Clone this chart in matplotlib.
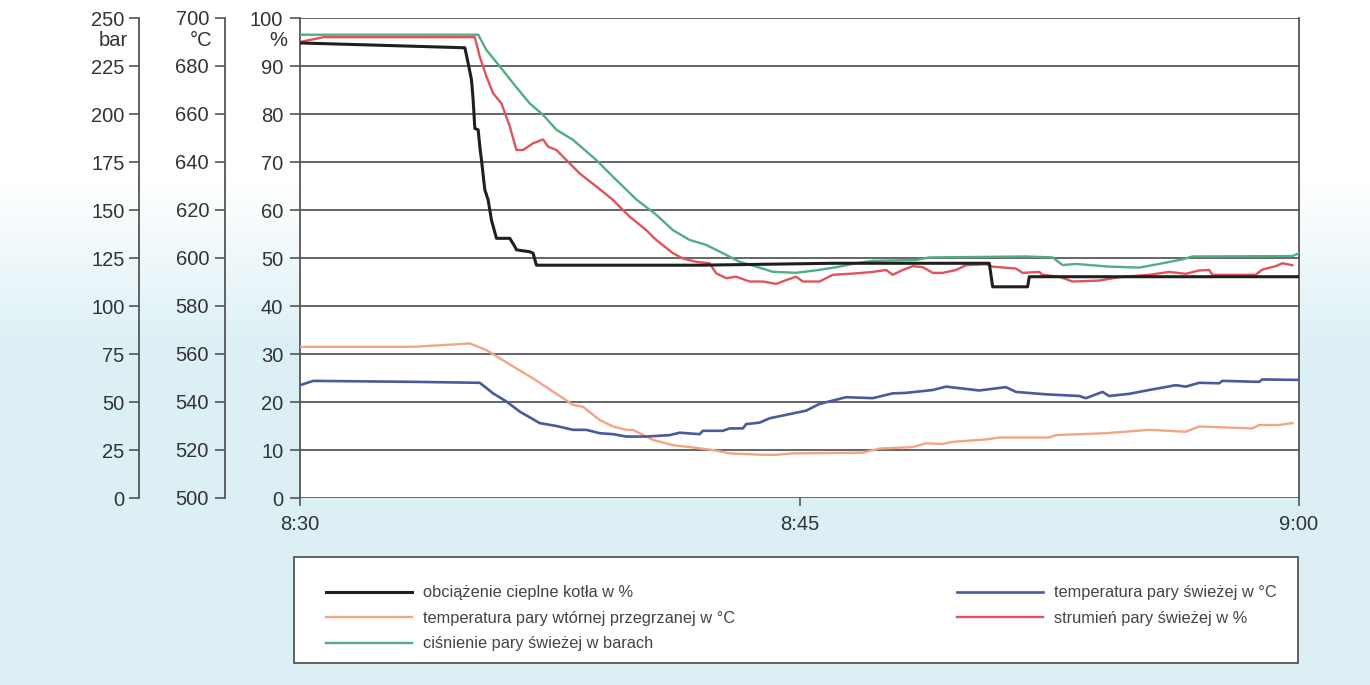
import numpy as np
import matplotlib
matplotlib.use("Agg")
import matplotlib.pyplot as plt
from matplotlib.patches import Rectangle
from matplotlib.lines import Line2D

plt.rcParams['font.family'] = ['Liberation Sans', 'DejaVu Sans']

# ---- data (time in minutes after 8:30) ----
load_t = [0, 2.5, 4.95, 5.05, 5.15, 5.2, 5.25, 5.35, 5.4, 5.45, 5.55, 5.65, 5.75,
          5.9, 6.3, 6.45, 6.5, 6.9, 7.0, 7.1, 12, 16, 20.7, 20.8, 21.85, 21.9, 30]
load_pct = [94.8, 94.3, 93.8, 90.6, 87.1, 82.9, 77.0, 76.7, 73.2, 70.4, 64.2, 62.1, 57.9,
            54.1, 54.1, 52.4, 51.7, 51.3, 51.0, 48.5, 48.5, 48.9, 48.9, 44.0, 44.0, 46.1, 46.1]

flow_t = [0, 0.7, 5.25, 5.4, 5.6, 5.8, 6.05, 6.3, 6.5, 6.7, 7.0, 7.3, 7.45, 7.7, 8.0,
          8.4, 8.9, 9.4, 9.9, 10.4, 10.7, 11.2, 11.5, 11.9, 12.3, 12.5, 12.8, 13.1,
          13.5, 13.9, 14.3, 14.6, 14.9, 15.1, 15.6, 16.0, 16.7, 17.2, 17.6, 17.8,
          18.1, 18.4, 18.7, 19.0, 19.3, 19.7, 20.0, 20.6, 20.8, 21.5, 21.7, 22.2,
          22.3, 22.8, 23.2, 24.0, 24.6, 25.5, 26.1, 26.6, 27.0, 27.3, 27.4, 28.7,
          28.9, 29.3, 29.5, 29.8]
flow_pct = [95.0, 96.0, 96.0, 91.9, 87.8, 84.3, 82.2, 77.4, 72.5, 72.5, 73.9, 74.7, 73.2,
            72.5, 70.4, 67.6, 64.9, 62.1, 58.6, 55.8, 53.75, 51.0, 49.9, 49.2, 48.9,
            46.8, 45.8, 46.1, 45.1, 45.1, 44.6, 45.4, 46.1, 45.1, 45.1, 46.5, 46.8,
            47.1, 47.5, 46.5, 47.5, 48.3, 48.1, 46.9, 46.9, 47.5, 48.5, 48.7, 48.2,
            47.8, 46.9, 47.1, 46.5, 46.1, 45.1, 45.3, 46.0, 46.5, 47.1, 46.7, 47.4,
            47.5, 46.5, 46.5, 47.6, 48.3, 48.9, 48.5]

pres_t = [0, 5.35, 5.6, 6.0, 6.4, 6.9, 7.3, 7.7, 8.2, 8.9, 9.4, 10.1, 10.7, 11.2, 11.7,
          12.2, 12.7, 13.2, 13.7, 14.2, 14.9, 15.6, 16.2, 16.7, 17.2, 18.5, 18.9,
          21.8, 22.6, 22.9, 23.3, 24.3, 25.2, 25.8, 26.5, 26.8, 29.8, 30]
pres_bar = [241.3, 241.3, 233.3, 224.8, 216.0, 205.5, 199.5, 191.8, 186.5, 176.0, 167.3,
            155.5, 147.5, 139.5, 134.4, 131.8, 127.5, 123.0, 120.5, 117.8, 117.3, 118.8,
            120.5, 122.3, 123.5, 124.0, 125.3, 125.8, 125.3, 121.3, 121.9, 120.5, 120.0,
            121.9, 124.3, 125.8, 126.0, 127.5]

live_t = [0, 0.4, 3.4, 5.4, 5.8, 6.2, 6.6, 7.2, 7.7, 8.2, 8.6, 9.0, 9.4, 9.8, 10.4, 11.1,
          11.4, 12.0, 12.1, 12.7, 12.9, 13.3, 13.4, 13.8, 14.1, 15.2, 15.6, 16.4, 17.2,
          17.8, 18.2, 19.0, 19.4, 20.4, 21.2, 21.5, 22.4, 23.4, 23.6, 24.1, 24.3, 24.9,
          25.5, 26.3, 26.6, 27.0, 27.6, 27.7, 28.8, 28.9, 30]
live_c = [547.0, 548.8, 548.4, 548.0, 543.6, 540.2, 536.0, 531.2, 530.0, 528.4, 528.4,
          527.0, 526.6, 525.6, 525.6, 526.2, 527.2, 526.6, 528.0, 528.0, 529.0, 529.0,
          530.8, 531.4, 533.2, 536.4, 539.2, 542.0, 541.6, 543.6, 543.8, 545.0, 546.4,
          544.8, 546.2, 544.2, 543.2, 542.5, 541.6, 544.2, 542.5, 543.4, 545.0, 547.0,
          546.4, 548.0, 547.8, 548.8, 548.4, 549.4, 549.2]

reheat_t = [0, 3.4, 4.4, 5.1, 5.6, 6.4, 7.0, 7.9, 8.2, 8.5, 9.0, 9.4, 9.8, 10.0, 10.6,
            11.2, 11.7, 12.4, 12.9, 13.9, 14.3, 14.8, 16.9, 17.4, 18.4, 18.8, 19.3,
            19.6, 20.6, 21.0, 22.5, 22.7, 24.2, 25.5, 26.6, 27.0, 28.6, 28.8, 29.4, 29.8]
reheat_c = [563.0, 563.0, 563.8, 564.4, 561.6, 554.8, 549.8, 541.6, 538.8, 538.0, 532.5,
            529.8, 528.4, 528.4, 524.2, 522.0, 521.2, 520.0, 518.6, 518.0, 518.0, 518.6,
            518.9, 520.6, 521.2, 522.8, 522.5, 523.4, 524.4, 525.2, 525.2, 526.2, 527.0,
            528.4, 527.6, 529.8, 529.0, 530.4, 530.4, 531.2]

time_ticks = [0, 15, 30]
time_labels = ['8:30', '8:45', '9:00']
pct_ticks = list(range(0, 101, 10))
bar_ticks = list(range(0, 251, 25))
degc_ticks = list(range(500, 701, 20))

labels = {
    'load': 'obciążenie cieplne kotła w %',
    'reheat': 'temperatura pary wtórnej przegrzanej w °C',
    'pres': 'ciśnienie pary świeżej w barach',
    'live': 'temperatura pary świeżej w °C',
    'flow': 'strumień pary świeżej w %',
}

C_LOAD = '#1f1f1f'
C_FLOW = '#e0525c'
C_PRES = '#4fae82'
C_REHEAT = '#f2a584'
C_LIVE = '#4a5a9c'
C_TEXT = '#333333'
C_GRID = '#3c3c3c'

W, H = 1370, 685
fig = plt.figure(figsize=(W / 100, H / 100), dpi=100)

# page tint behind the chart
bg = fig.add_axes([0, 0, 1, 1], zorder=-10)
rows = np.arange(H)
f = np.clip((rows - 180) / 170.0, 0, 1)[:, None, None]
white = np.array([1.0, 1.0, 1.0])
tint = np.array([0.862, 0.940, 0.962])
img = white * (1 - f) + tint * f
img = np.repeat(img, 4, axis=1)
bg.imshow(img, aspect='auto', extent=[0, 1, 0, 1], interpolation='bilinear')
bg.axis('off')


def px(x, y):
    return x / W, 1 - y / H


L, R, T, B = 300, 1299, 18, 498
ax = fig.add_axes([L / W, 1 - B / H, (R - L) / W, (B - T) / H])
ax.set_facecolor('white')
ax.set_xlim(0, 30)
ax.set_ylim(0, 100)
ax.set_yticks(pct_ticks)
ax.set_xticks(time_ticks)
ax.set_xticklabels(time_labels)
ax.yaxis.grid(True, color=C_GRID, lw=1.1)
ax.set_axisbelow(True)
for s in ['top', 'bottom']:
    ax.spines[s].set_visible(False)
for s in ['left', 'right']:
    ax.spines[s].set_color('#555555')
    ax.spines[s].set_linewidth(1.3)
ax.tick_params(axis='y', direction='out', length=7, width=1.2, color='#555555',
               pad=5, labelsize=14.5, labelcolor=C_TEXT)
ax.tick_params(axis='x', direction='out', length=6, width=1.2, color='#555555',
               pad=6, labelsize=14.5, labelcolor=C_TEXT)


def side_axis(offset_px, lo, hi, ticks, pad):
    a = ax.twinx()
    a.set_ylim(lo, hi)
    a.set_yticks(ticks)
    a.yaxis.set_ticks_position('left')
    a.yaxis.set_label_position('left')
    for s in ['top', 'bottom', 'right']:
        a.spines[s].set_visible(False)
    a.spines['left'].set_visible(True)
    a.spines['left'].set_position(('axes', offset_px / (R - L)))
    a.spines['left'].set_color('#555555')
    a.spines['left'].set_linewidth(1.3)
    a.tick_params(axis='y', direction='out', length=7, width=1.2, color='#555555',
                  pad=pad, labelsize=14.5, labelcolor=C_TEXT)
    return a


ax_bar = side_axis(139 - L, 0, 250, bar_ticks, 3.5)
ax_deg = side_axis(225 - L, 500, 700, degc_ticks, 4.5)

# units under the top tick labels
fig.text(*px(128, 41), 'bar', ha='right', va='center', fontsize=14.5, color=C_TEXT)
fig.text(*px(212, 41), '°C', ha='right', va='center', fontsize=14.5, color=C_TEXT)
fig.text(*px(287, 41), '%', ha='right', va='center', fontsize=14.5, color=C_TEXT)

# series
ax_deg.plot(reheat_t, reheat_c, color=C_REHEAT, lw=1.7)
ax_deg.plot(live_t, live_c, color=C_LIVE, lw=1.9)
ax_bar.plot(pres_t, pres_bar, color=C_PRES, lw=1.7)
ax_deg.set_zorder(ax.get_zorder() + 1)
ax_bar.set_zorder(ax.get_zorder() + 2)
top = ax.twinx()
top.set_ylim(0, 100)
top.set_axis_off()
top.set_zorder(ax.get_zorder() + 3)
top.plot(flow_t, flow_pct, color=C_FLOW, lw=1.7)
top.plot(load_t, load_pct, color=C_LOAD, lw=2.2)

# legend frame
x0, y0, x1, y1 = 294, 557, 1298, 663
fig.add_artist(Rectangle(px(x0, y1), (x1 - x0) / W, (y1 - y0) / H,
                         transform=fig.transFigure, facecolor='white',
                         edgecolor='#555555', lw=1.3, zorder=1))

fs = 11.8
left_keys = ['load', 'reheat', 'pres']
left_cols = [C_LOAD, C_REHEAT, C_PRES]
left_lw = [2.2, 1.7, 1.7]
right_keys = ['live', 'flow']
right_cols = [C_LIVE, C_FLOW]
right_lw = [1.9, 1.7]

common = dict(loc='upper left', frameon=False, fontsize=fs, handlelength=5.25,
              handletextpad=0.68, labelspacing=0.64, borderpad=0, borderaxespad=0,
              labelcolor='#444444')
leg1 = fig.legend([Line2D([], [], color=c, lw=w) for c, w in zip(left_cols, left_lw)],
                  [labels[k] for k in left_keys], bbox_to_anchor=px(326, 585.5), **common)
leg2 = fig.legend([Line2D([], [], color=c, lw=w) for c, w in zip(right_cols, right_lw)],
                  [labels[k] for k in right_keys], bbox_to_anchor=px(957, 585.5), **common)
leg1.set_zorder(5)
leg2.set_zorder(5)

fig.savefig('out.png', dpi=100)
